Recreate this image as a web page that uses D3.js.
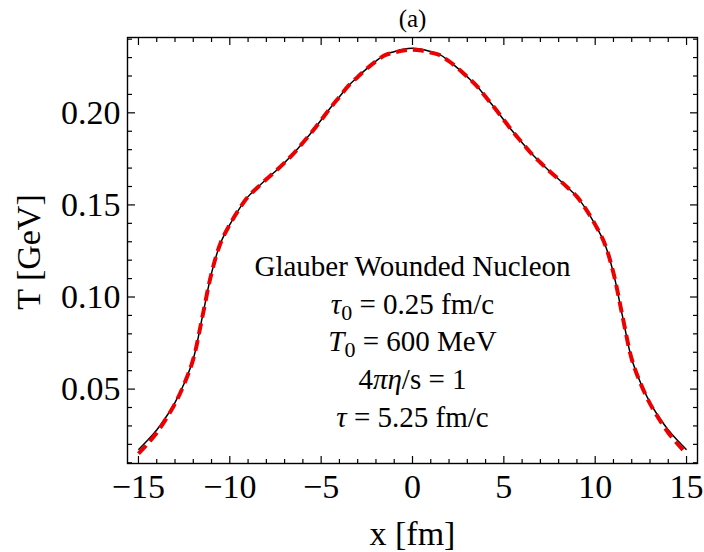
<!DOCTYPE html>
<html>
<head>
<meta charset="utf-8">
<script src="https://cdn.jsdelivr.net/npm/d3@7"></script>
<style>
  html, body { margin: 0; padding: 0; background: #fff; }
  svg { display: block; font-family: "Liberation Serif", "Times New Roman", serif; }
</style>
</head>
<body>
<svg id="chart" width="704" height="552"></svg>
<script>
// ---- data ----
const xValues = [-15,-14.5,-14,-13.5,-13,-12.5,-12,-11.5,-11,-10.5,-10,-9.5,-9,-8.5,-8,-7.5,-7,-6.5,-6,-5.5,-5,-4.5,-4,-3.5,-3,-2.5,-2,-1.5,-1,-0.5,
  0,0.5,1,1.5,2,2.5,3,3.5,4,4.5,5,5.5,6,6.5,7,7.5,8,8.5,9,9.5,10,10.5,11,11.5,12,12.5,13,13.5,14,14.5,15];
const solidT = [0.0171,0.0222,0.0278,0.0347,0.0427,0.0530,0.0663,0.0893,0.1130,0.1295,0.1393,0.1476,0.1545,0.1593,0.1639,0.1683,0.1730,0.1780,0.1838,0.1897,0.1961,0.2026,0.2087,0.2148,0.2195,0.2240,0.2281,0.2316,0.2332,0.2345,
  0.2350,0.2345,0.2332,0.2316,0.2281,0.2240,0.2195,0.2148,0.2087,0.2026,0.1961,0.1897,0.1838,0.1780,0.1730,0.1683,0.1639,0.1593,0.1545,0.1476,0.1393,0.1295,0.1130,0.0893,0.0663,0.0530,0.0427,0.0347,0.0278,0.0222,0.0171];
const dashedT = [0.0149,0.0203,0.0263,0.0337,0.0421,0.0527,0.0663,0.0893,0.1130,0.1295,0.1393,0.1476,0.1545,0.1593,0.1639,0.1683,0.1730,0.1780,0.1838,0.1897,0.1961,0.2026,0.2087,0.2148,0.2195,0.2240,0.2280,0.2313,0.2327,0.2338,
  0.2342,0.2338,0.2327,0.2313,0.2280,0.2240,0.2195,0.2148,0.2087,0.2026,0.1961,0.1897,0.1838,0.1780,0.1730,0.1683,0.1639,0.1593,0.1545,0.1476,0.1393,0.1295,0.1130,0.0893,0.0663,0.0527,0.0421,0.0337,0.0263,0.0203,0.0149];
const xMajorTicks = [-15,-10,-5,0,5,10,15];
const xTickLabels = ["\u221215","\u221210","\u22125","0","5","10","15"];
const xMinorTicks = [-15,-14,-13,-12,-11,-10,-9,-8,-7,-6,-5,-4,-3,-2,-1,0,1,2,3,4,5,6,7,8,9,10,11,12,13,14,15];
const yMajorTicks = [0.05,0.10,0.15,0.20];
const yTickLabels = ["0.05","0.10","0.15","0.20"];
const yMinorTicks = [0.01,0.02,0.03,0.04,0.05,0.06,0.07,0.08,0.09,0.10,0.11,0.12,0.13,0.14,0.15,0.16,0.17,0.18,0.19,0.20,0.21,0.22,0.23,0.24];
const titleText = "(a)";
const xLabel = "x [fm]";
const yLabel = "T [GeV]";

// ---- layout ----
const svg = d3.select("#chart");
const L = 127.5, R = 697.5, T = 37.5, B = 463.5;
const x = d3.scaleLinear().domain([-15.6, 15.6]).range([L, R]);
const y = d3.scaleLinear().domain([0.0096, 0.2409]).range([B, T]);

svg.append("clipPath").attr("id","clip").append("rect")
  .attr("x", L).attr("y", T).attr("width", R-L).attr("height", B-T);

const line = d3.line().x((d,i)=>x(xValues[i])).y(d=>y(d)).curve(d3.curveCatmullRom.alpha(0.5));

const curves = svg.append("g").attr("clip-path","url(#clip)");
curves.append("path").attr("d", line(solidT)).attr("fill","none")
  .attr("stroke","#000").attr("stroke-width",1.5);
curves.append("path").attr("d", line(dashedT)).attr("fill","none")
  .attr("stroke","#ee0000").attr("stroke-width",4).attr("stroke-dasharray","11,6");

// ---- frame & ticks ----
const g = svg.append("g").attr("stroke","#000").attr("stroke-width",1.2);
const majL = 7.5, minL = 4.5;
xMinorTicks.forEach(v => {
  const len = xMajorTicks.includes(v) ? majL : minL;
  const px = x(v);
  g.append("line").attr("x1",px).attr("x2",px).attr("y1",B).attr("y2",B-len);
  g.append("line").attr("x1",px).attr("x2",px).attr("y1",T).attr("y2",T+len);
});
yMinorTicks.forEach(v => {
  const isMaj = yMajorTicks.some(m => Math.abs(m-v) < 1e-9);
  const len = isMaj ? majL : minL;
  const py = y(v);
  g.append("line").attr("x1",L).attr("x2",L+len).attr("y1",py).attr("y2",py);
  g.append("line").attr("x1",R).attr("x2",R-len).attr("y1",py).attr("y2",py);
});
svg.append("rect").attr("x",L).attr("y",T).attr("width",R-L).attr("height",B-T)
  .attr("fill","none").attr("stroke","#000").attr("stroke-width",1.4);

// ---- tick labels ----
xMajorTicks.forEach((v,i) => {
  svg.append("text").attr("x", x(v)).attr("y", B + 34).attr("text-anchor","middle")
    .attr("font-size", 34).text(xTickLabels[i]);
});
yMajorTicks.forEach((v,i) => {
  svg.append("text").attr("x", L - 7).attr("y", y(v) + 11).attr("text-anchor","end")
    .attr("font-size", 34).text(yTickLabels[i]);
});

// ---- axis labels & title ----
svg.append("text").attr("x", x(0)).attr("y", 545).attr("text-anchor","middle")
  .attr("font-size", 34).text(xLabel);
svg.append("text").attr("transform","translate(40,252) rotate(-90)").attr("text-anchor","middle")
  .attr("font-size", 34).text(yLabel);
svg.append("text").attr("x", x(0)).attr("y", 27).attr("text-anchor","middle")
  .attr("font-size", 25).text(titleText);

// ---- annotation ----
const annotation = [
  [{t:"Glauber Wounded Nucleon"}],
  [{t:"\u03C4", i:true},{t:"0", sub:true},{t:" = 0.25 fm/c"}],
  [{t:"T", i:true},{t:"0", sub:true},{t:" = 600 MeV"}],
  [{t:"4"},{t:"\u03C0\u03B7", i:true},{t:"/s = 1"}],
  [{t:"\u03C4", i:true},{t:" = 5.25 fm/c"}]
];
const annBase = [276, 314, 351, 389, 427];
annotation.forEach((parts, li) => {
  const tx = svg.append("text").attr("x", x(0)).attr("y", annBase[li])
    .attr("text-anchor","middle").attr("font-size", 29);
  let prevSub = false;
  parts.forEach(p => {
    const ts = tx.append("tspan").text(p.t);
    if (p.i) ts.attr("font-style","italic");
    if (p.sub) { ts.attr("dy", 6).attr("font-size", 22); }
    else if (prevSub) ts.attr("dy", -6);
    prevSub = !!p.sub;
  });
});
</script>
</body>
</html>
